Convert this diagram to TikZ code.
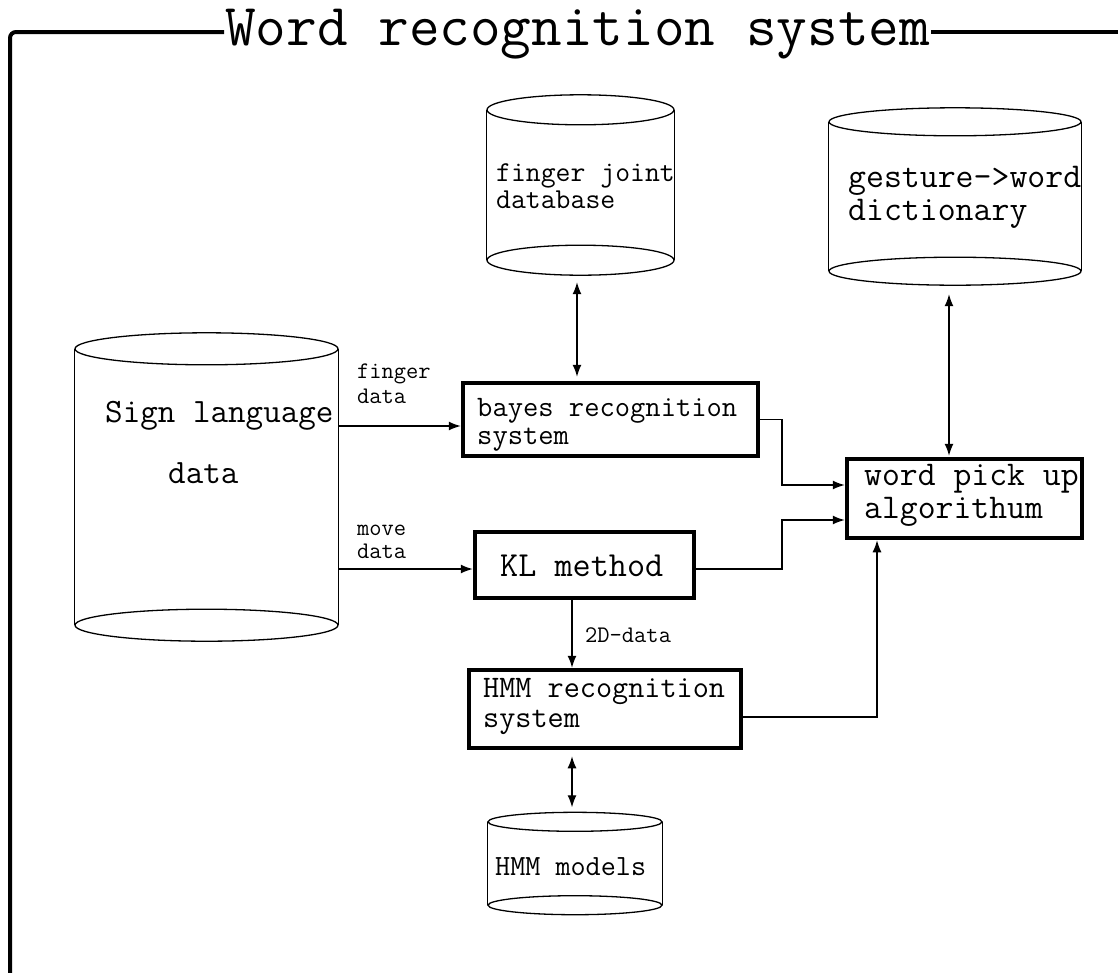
\documentclass[tikz,border=0pt]{standalone}
\usepackage{fontspec}
\usetikzlibrary{arrows.meta}
\tikzset{
  conn/.style={line width=1.3pt, -{Latex[length=12pt,width=9pt]}},
  conntwo/.style={line width=1.3pt, {Latex[length=12pt,width=9pt]}-{Latex[length=12pt,width=9pt]}},
  procbox/.style={draw, line width=4.5pt, inner sep=0pt},
  cylbody/.style={inner sep=0pt},
  cylline/.style={line width=1.3pt},
  txt/.style={inner sep=0pt, anchor=base west, align=left},
  frameline/.style={line width=4pt},
}
\newcommand\fsz[2]{\ttfamily\fontsize{#1}{#2}\selectfont}
\newcommand\drawcyl[3]{%
  \draw[cylline] ([yshift=-#3pt]#1.north) ellipse [x radius=#2pt, y radius=#3pt];
  \draw[cylline] ([yshift=#3pt]#1.south) ellipse [x radius=#2pt, y radius=#3pt];
  \draw[cylline] ([yshift=-#3pt]#1.north west) -- ([yshift=#3pt]#1.south west);
  \draw[cylline] ([yshift=-#3pt]#1.north east) -- ([yshift=#3pt]#1.south east);
}
\begin{document}
\begin{tikzpicture}[x=1pt,y=-1pt]
\useasboundingbox (0,0) rectangle (1118,972);

% title and frame
\node[inner sep=1pt, anchor=base west, font=\fsz{59.5}{59.5}] (title) at (224,45) {Word recognition system};
\coordinate (fl) at (10,32);
\draw[frameline, rounded corners=6pt] (title.west |- fl) -- (fl) -- (10,980);
\draw[frameline] (title.east |- fl) -- (1125,32);

% cylinders
\node[cylbody, minimum width=187pt, minimum height=180pt] (fj) at (580.5,185) {};
\drawcyl{fj}{93.5}{15}
\node[txt, font=\fsz{28.9}{27.5}] (fjt) at (496,208.5) {finger joint\\database};

\node[cylbody, minimum width=252pt, minimum height=177pt] (dict) at (955,196.5) {};
\drawcyl{dict}{126}{14}
\node[txt, font=\fsz{34.8}{33}] (dictt) at (848,220) {gesture->word\\dictionary};

\node[cylbody, minimum width=263pt, minimum height=308pt] (sl) at (206.5,487) {};
\drawcyl{sl}{131.5}{16}
\node[txt, font=\fsz{34.1}{61}] (slt) at (105,483) {Sign language\\\hspace*{63pt}data};

\node[cylbody, minimum width=174pt, minimum height=102pt] (hm) at (575,863.5) {};
\drawcyl{hm}{87}{9.5}
\node[txt, font=\fsz{29.3}{28}] (hmt) at (495,875) {HMM models};

% process boxes
\node[procbox, minimum width=295pt, minimum height=73pt] (bayes) at (610.5,419.5) {};
\node[txt, font=\fsz{29.7}{28.2}] (bayest) at (477,444.7) {bayes recognition\\system};

\node[procbox, minimum width=219pt, minimum height=66pt] (kl) at (584.5,565) {};
\node[txt, font=\fsz{35.2}{34}] (klt) at (500,576) {KL method};

\node[procbox, minimum width=272pt, minimum height=78pt] (hmmb) at (605,709) {};
\node[txt, font=\fsz{31.3}{29.8}] (hmmbt) at (483,727.2) {HMM recognition\\system};

\node[procbox, minimum width=235pt, minimum height=79pt] (word) at (964.5,498.5) {};
\node[txt, font=\fsz{34.7}{33}] (wordt) at (864,518) {word pick up\\algorithum};

% connector labels
\node[txt, font=\fsz{23.8}{25}] (lfd) at (357,403) {finger\\data};
\node[txt, font=\fsz{23.8}{23}] (lmd) at (357,558) {move\\data};
\node[txt, font=\fsz{23.8}{23}] (l2d) at (585,642) {2D-data};

% connectors
\coordinate (fy) at (0,426);
\coordinate (ky) at (0,569);
\coordinate (hy) at (0,717);
\coordinate (jx) at (782,0);
\coordinate (vx) at (572,0);
\coordinate (fx) at (577,0);
\coordinate (dx) at (949,0);

\draw[conn] (sl.east |- fy) -- (bayes.west |- fy);
\draw[conn] (sl.east |- ky) -- (kl.west |- ky);
\draw[conn] (bayes.east) -| (jx |- bayes.east) |- ([yshift=13.5pt]word.west);
\draw[conn] (kl.east |- ky) -| (jx |- ky) |- ([yshift=-21.5pt]word.west);
\draw[conn] (hmmb.east |- hy) -| ([xshift=-87.5pt]word.south);
\draw[conn] (kl.south -| vx) -- (hmmb.north -| vx);
\draw[conntwo, shorten <=7pt, shorten >=4pt] (fj.south -| fx) -- (bayes.north -| fx);
\draw[conntwo, shorten <=9pt, shorten >=1pt] (dict.south -| dx) -- (word.north -| dx);
\draw[conntwo, shorten <=6pt, shorten >=5pt] (hmmb.south -| vx) -- (hm.north -| vx);
\end{tikzpicture}
\end{document}
